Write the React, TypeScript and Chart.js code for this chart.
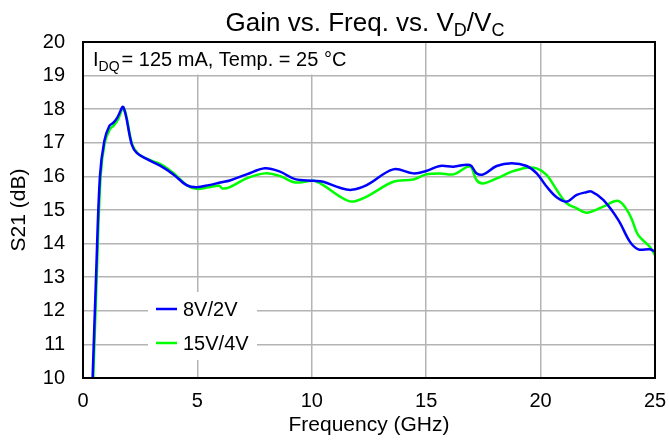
import React, { useEffect, useRef } from "react";
import { Chart, registerables } from "chart.js";

Chart.register(...registerables);

// Frequency (GHz) and gain S21 (dB) for 8V/2V
const freq8V = [0.42, 0.57, 0.74, 0.93, 1.15, 1.33, 1.5, 1.76, 2.13, 2.35, 2.78, 3.37, 3.95, 4.53, 4.97, 5.5, 6.0, 6.42, 7.15, 7.95, 8.61, 9.27, 10.07, 10.5, 11.23, 11.74, 12.4, 13.56, 14.44, 15.0, 15.6, 16.19, 16.91, 17.2, 17.5, 18.08, 18.74, 19.39, 19.83, 20.27, 20.7, 21.14, 21.58, 22.0, 22.23, 22.74, 23.4, 23.9, 24.27, 24.78, 25.0];
const gain8V = [10.0, 13.0, 16.0, 17.05, 17.5, 17.6, 17.75, 18.06, 16.95, 16.7, 16.52, 16.32, 16.06, 15.74, 15.68, 15.74, 15.82, 15.88, 16.06, 16.24, 16.14, 15.92, 15.87, 15.84, 15.66, 15.6, 15.74, 16.21, 16.09, 16.16, 16.31, 16.29, 16.34, 16.09, 16.06, 16.31, 16.39, 16.31, 16.09, 15.69, 15.38, 15.25, 15.45, 15.53, 15.55, 15.3, 14.7, 14.06, 13.83, 13.83, 13.76];

// Frequency (GHz) and gain S21 (dB) for 15V/4V
const freq15V = [0.45, 0.6, 0.77, 0.95, 1.17, 1.35, 1.52, 1.78, 2.15, 2.4, 2.8, 3.4, 3.95, 4.53, 4.97, 5.5, 5.95, 6.1, 6.42, 7.15, 7.95, 8.61, 9.27, 10.07, 10.5, 11.23, 11.74, 12.4, 13.56, 14.44, 15.0, 15.6, 16.19, 16.91, 17.2, 17.5, 18.08, 18.74, 19.39, 19.83, 20.27, 20.7, 21.14, 21.58, 22.0, 22.74, 23.4, 23.9, 24.27, 24.78, 25.0];
const gain15V = [10.0, 13.0, 16.0, 17.0, 17.4, 17.52, 17.68, 18.04, 16.95, 16.68, 16.52, 16.36, 16.1, 15.74, 15.63, 15.68, 15.72, 15.64, 15.68, 15.94, 16.09, 16.01, 15.82, 15.87, 15.74, 15.4, 15.25, 15.4, 15.84, 15.91, 16.06, 16.09, 16.06, 16.29, 15.89, 15.79, 15.94, 16.14, 16.26, 16.24, 16.04, 15.6, 15.2, 15.05, 14.92, 15.1, 15.27, 14.85, 14.25, 13.9, 13.66];

const seriesNames = ["8V/2V", "15V/4V"];
const seriesColors = ["#0000ff", "#00ff00"];

const FONT = 'Arial, "Liberation Sans", sans-serif';

const toPoints = (xs: number[], ys: number[]) => xs.map((x, i) => ({ x, y: ys[i] }));

const decorPlugin = {
  id: "decor",
  beforeDatasetsDraw(chart: any) {
    const { ctx, chartArea: a, scales } = chart;
    const y19 = scales.y.getPixelForValue(19);
    ctx.save();
    ctx.fillStyle = "#ffffff";
    // annotation background
    ctx.fillRect(a.left, a.top, 280, y19 - a.top - 1);
    // legend background
    ctx.fillRect(a.left + 65, a.bottom - 86, 109, 68);
    ctx.restore();
  },
  afterDraw(chart: any) {
    const { ctx, chartArea: a } = chart;
    ctx.save();
    // plot border
    ctx.strokeStyle = "#000000";
    ctx.lineWidth = 2;
    ctx.strokeRect(a.left, a.top, a.right - a.left, a.bottom - a.top);

    // title with subscripts
    const big = `26px ${FONT}`;
    const sub = `18px ${FONT}`;
    const parts: [string, string, number][] = [
      ["Gain vs. Freq. vs. V", big, 0],
      ["D", sub, 5],
      ["/V", big, 0],
      ["C", sub, 5],
    ];
    let total = 0;
    for (const [t, f] of parts) {
      ctx.font = f;
      total += ctx.measureText(t).width;
    }
    let x = (a.left + a.right) / 2 - 4 - total / 2;
    const baseY = 31;
    ctx.fillStyle = "#000000";
    ctx.textBaseline = "alphabetic";
    ctx.textAlign = "left";
    for (const [t, f, dy] of parts) {
      ctx.font = f;
      ctx.fillText(t, x, baseY + dy);
      x += ctx.measureText(t).width;
    }

    // annotation text
    let ax = a.left + 10;
    const ay = a.top + 24;
    ctx.font = `20px ${FONT}`;
    ctx.fillText("I", ax, ay);
    ax += ctx.measureText("I").width;
    ctx.font = `14px ${FONT}`;
    ctx.fillText("DQ", ax, ay + 5);
    ax += ctx.measureText("DQ").width + 2;
    ctx.font = `20px ${FONT}`;
    ctx.fillText("= 125 mA, Temp. = 25 °C", ax, ay);

    // legend
    const lx = a.left + 73;
    const rows = [a.bottom - 69, a.bottom - 35];
    ctx.textBaseline = "middle";
    ctx.font = `20px ${FONT}`;
    rows.forEach((ry, i) => {
      ctx.strokeStyle = seriesColors[i];
      ctx.lineWidth = 2.5;
      ctx.beginPath();
      ctx.moveTo(lx, ry);
      ctx.lineTo(lx + 21, ry);
      ctx.stroke();
      ctx.fillStyle = "#000000";
      ctx.fillText(seriesNames[i], lx + 27, ry + 1);
    });
    ctx.restore();
  },
};

export default function App() {
  const canvasRef = useRef<HTMLCanvasElement | null>(null);

  useEffect(() => {
    const canvas = canvasRef.current;
    if (!canvas) return;
    const chart = new Chart(canvas, {
      type: "line",
      data: {
        datasets: [
          {
            label: seriesNames[0],
            data: toPoints(freq8V, gain8V),
            borderColor: seriesColors[0],
            backgroundColor: seriesColors[0],
            borderWidth: 2.5,
            pointRadius: 0,
            tension: 0.35,
            fill: false,
          },
          {
            label: seriesNames[1],
            data: toPoints(freq15V, gain15V),
            borderColor: seriesColors[1],
            backgroundColor: seriesColors[1],
            borderWidth: 2.5,
            pointRadius: 0,
            tension: 0.35,
            fill: false,
          },
        ],
      },
      options: {
        responsive: false,
        animation: false,
        layout: { padding: { top: 42, right: 14, left: 0, bottom: 0 } },
        plugins: {
          legend: { display: false },
          title: { display: false },
          tooltip: { enabled: false },
        },
        scales: {
          x: {
            type: "linear",
            min: 0,
            max: 25,
            ticks: {
              stepSize: 5,
              padding: 11,
              color: "#000000",
              font: { family: FONT, size: 20 },
            },
            grid: { color: "#b4b4b4", lineWidth: 1.5, drawTicks: false },
            border: { display: false },
            title: {
              display: true,
              text: "Frequency (GHz)",
              color: "#000000",
              font: { family: FONT, size: 21 },
              padding: { top: 0, bottom: 3 },
            },
            afterFit: (s: any) => {
              s.height = 63;
              s.paddingLeft = 0;
              s.paddingRight = 0;
            },
          },
          y: {
            min: 10,
            max: 20,
            ticks: {
              stepSize: 1,
              padding: 18,
              color: "#000000",
              font: { family: FONT, size: 20 },
            },
            grid: { color: "#b4b4b4", lineWidth: 1.5, drawTicks: false },
            border: { display: false },
            title: {
              display: true,
              text: "S21 (dB)",
              color: "#000000",
              font: { family: FONT, size: 21 },
              padding: { top: 7, bottom: 0 },
            },
            afterFit: (s: any) => {
              s.width = 83;
              s.paddingTop = 0;
              s.paddingBottom = 0;
            },
          },
        },
      },
      plugins: [decorPlugin],
    });
    return () => chart.destroy();
  }, []);

  return (
    <div style={{ position: "fixed", left: 0, top: 0, width: 669, height: 441, background: "#fff" }}>
      <canvas ref={canvasRef} width={669} height={441} style={{ display: "block" }} />
    </div>
  );
}
